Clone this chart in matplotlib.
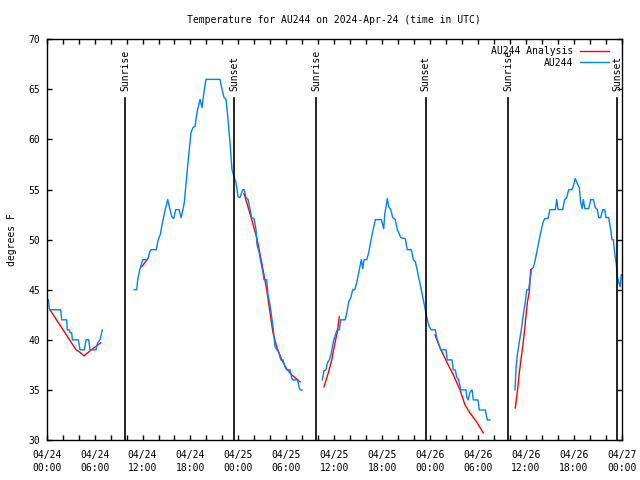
import numpy as np
import matplotlib
matplotlib.use('Agg')
import matplotlib.pyplot as plt
from matplotlib.ticker import MultipleLocator

# Timp in ore de la 04/24 00:00 UTC, temperatura in grade F
# AU244 (observatii), pe segmente
obs1_h = [0.20, 0.36, 1.75, 1.88, 2.50, 2.58, 2.83, 2.92, 3.13, 3.21, 3.96, 4.17,
          4.71, 4.92, 5.26, 5.42, 6.17, 6.36, 6.67, 6.96]
obs1_t = [44, 43, 43, 42, 42, 41, 41, 40.7, 40.7, 40, 40, 39,
          39, 40, 40, 39, 39, 39.7, 40, 41]

obs2_h = [10.97, 11.27, 11.39, 11.65, 11.90, 12.02, 12.56, 12.72, 12.90, 13.06, 13.72,
          13.90, 14.06, 14.22, 14.40, 14.65, 14.90, 15.15, 15.35, 15.65, 15.90, 16.15,
          16.57, 16.82, 16.98, 17.23, 17.69, 18.07, 18.32, 18.57, 18.82, 19.20, 19.45,
          19.70, 19.95, 21.70, 21.95, 22.20, 22.45, 22.70, 22.95, 23.20, 23.45, 23.70,
          23.95, 24.20, 24.54, 24.71, 24.96, 25.21, 25.67, 25.96, 26.21, 26.33, 26.58,
          26.83, 27.08, 27.21, 27.55, 27.71, 27.96, 28.17, 28.34, 28.59, 28.84, 29.09,
          29.30, 29.59, 29.84, 30.05, 30.47, 30.68, 30.80, 31.43, 31.59, 31.72, 31.97]
obs2_t = [45, 45, 46, 47, 47.7, 48, 48, 48.2, 48.8, 49, 49,
          49.8, 50.2, 50.5, 51.3, 52.3, 53.2, 54, 53.3, 52.3, 52.1, 53,
          53, 52.2, 52.7, 53.7, 57.7, 60.7, 61.2, 61.3, 62.7, 64, 63.2,
          64.8, 66, 66, 65, 64.2, 64, 62, 59.7, 57, 56.3, 55.7,
          54.3, 54.2, 55, 55, 54.2, 54, 52.2, 52.1, 51, 49.5, 48.8,
          47.7, 46.7, 46, 46, 44.5, 43.5, 42.3, 41.3, 39.3, 39, 38.7,
          38, 38, 37.3, 37, 37, 36.2, 36, 36, 35.3, 35, 35]

obs3_h = [34.51, 34.72, 34.97, 35.14, 35.39, 35.64, 35.89, 36.14, 36.39, 36.64, 36.81,
          37.39, 37.57, 37.82, 38.07, 38.32, 38.57, 38.82, 39.07, 39.23, 39.39, 39.57,
          39.73, 40.07, 40.32, 40.57, 40.82, 41.15, 41.90, 42.07, 42.20, 42.32, 42.49,
          42.65, 42.83, 43.08, 43.33, 43.65, 43.90, 44.08, 44.33, 44.90, 45.15, 45.66,
          45.91, 46.16, 46.33, 46.58, 46.83, 47.08, 47.33, 47.49, 47.66, 47.91, 48.16,
          48.66, 48.84, 49.34, 50.00, 50.16, 50.75, 50.91, 51.16, 51.34, 51.59, 51.84,
          52.50, 52.59, 52.76, 53.01, 53.26, 53.42, 54.01, 54.17, 54.92, 55.17, 55.51]
obs3_t = [36, 36.9, 37, 37.7, 38, 38.7, 39.8, 40.5, 41, 41, 42,
          42, 42.7, 43.8, 44.2, 45, 45, 45.7, 46.7, 47.3, 48, 47.1,
          48, 48, 48.7, 49.8, 50.8, 52, 52, 51.5, 51.1, 52.5, 53.3,
          54.1, 53.3, 53, 52.2, 52, 51, 50.7, 50.2, 50.1, 49, 49,
          48, 47.8, 47.2, 46.2, 45.3, 44.3, 43.3, 42.7, 42, 41.3, 41,
          41, 40.2, 39, 39, 38, 38, 37, 37, 36.3, 36, 35,
          35, 34.3, 34, 34.8, 35, 34, 34, 33, 33, 32, 32]

obs4_h = [58.64, 58.77, 58.93, 59.18, 59.43, 59.68, 59.93, 60.11, 60.36, 60.43, 60.61,
          60.73, 60.93, 61.18, 61.43, 61.68, 61.93, 62.18, 62.36, 62.77, 63.02, 63.69,
          63.86, 64.03, 64.61, 64.86, 65.11, 65.37, 65.78, 66.03, 66.19, 66.44, 66.69,
          66.87, 67.04, 67.20, 67.38, 67.87, 68.12, 68.45, 68.70, 68.95, 69.12, 69.37,
          69.62, 69.87, 70.04, 70.37, 70.62, 70.79, 70.95, 71.13, 71.30, 71.46, 71.64,
          71.81, 71.95]
obs4_t = [35, 37.2, 38.5, 39.8, 41, 42.5, 43.8, 45, 45, 45.5, 46.5,
          47.1, 47.2, 48, 49, 50, 51, 51.8, 52.1, 52.1, 53, 53,
          54, 53, 53, 54, 54.2, 55, 55, 55.6, 56.1, 55.6, 55.2,
          53.7, 53.1, 54, 53.1, 53.1, 54, 54, 53.2, 53, 52.2, 52.2,
          53, 53, 52.2, 52.2, 51, 50, 50, 48.6, 47.7, 46.3, 45.7,
          45.3, 46.5]

# AU244 Analysis
an1_h = [0.41, 3.67, 4.08, 4.67, 5.42, 6.76]
an1_t = [43, 39, 38.8, 38.4, 38.9, 39.7]
an2_h = [11.90, 12.65]
an2_t = [47.3, 48.1]
an3_h = [24.71, 25.67, 26.30, 26.92, 27.55, 27.96, 28.34, 28.80, 29.43, 30.05, 30.68, 31.72]
an3_t = [54.6, 52, 50.2, 47.7, 45, 42.7, 40.7, 39.3, 38, 37.1, 36.5, 35.8]
an4_h = [34.72, 35.26, 35.69, 36.10, 36.39, 36.64]
an4_t = [35.3, 36.7, 38, 39.7, 40.8, 42.3]
an5_h = [48.62, 49.25, 50.09, 50.92, 51.75, 52.38, 53.00, 53.84, 54.67]
an5_t = [40.5, 39.2, 37.8, 36.5, 35, 33.5, 32.7, 31.8, 30.7]
an6_h = [58.68, 58.93, 59.18, 59.43, 59.68, 59.93, 60.18, 60.43, 60.61]
an6_t = [33.2, 34.8, 36.7, 38.3, 39.8, 41.7, 43.7, 44.8, 47]

sun_h = [9.84, 23.49, 33.72, 47.46, 57.80, 71.42]
sun_lbl = ['Sunrise', 'Sunset', 'Sunrise', 'Sunset', 'Sunrise', 'Sunset']

tick_h = [0, 6, 12, 18, 24, 30, 36, 42, 48, 54, 60, 66, 72]
tick_lbl = ['04/24\n00:00', '04/24\n06:00', '04/24\n12:00', '04/24\n18:00',
            '04/25\n00:00', '04/25\n06:00', '04/25\n12:00', '04/25\n18:00',
            '04/26\n00:00', '04/26\n06:00', '04/26\n12:00', '04/26\n18:00',
            '04/27\n00:00']


def join(segs):
    xs, ys = [], []
    for h, t in segs:
        xs += list(h) + [np.nan]
        ys += list(t) + [np.nan]
    return xs, ys


plt.rcParams['font.family'] = 'DejaVu Sans Mono'
plt.rcParams['font.size'] = 7

fig = plt.figure(figsize=(6.4, 4.8), dpi=100)
ax = fig.add_axes([0.073, 0.0833, 0.8984, 0.8348])

ax_h, ax_t = join([(an1_h, an1_t), (an2_h, an2_t), (an3_h, an3_t),
                   (an4_h, an4_t), (an5_h, an5_t), (an6_h, an6_t)])
ob_h, ob_t = join([(obs1_h, obs1_t), (obs2_h, obs2_t), (obs3_h, obs3_t), (obs4_h, obs4_t)])

ax.plot(ax_h, ax_t, color='#ff0000', lw=1.0, label='AU244 Analysis')
ax.plot(ob_h, ob_t, color='#0080ff', lw=1.0, label='AU244')

# Rasarit / apus
for h, lbl in zip(sun_h, sun_lbl):
    ax.axvline(h, ymin=0, ymax=0.8525, color='black', lw=1.2)
    ax.text(h, 0.87, lbl, rotation=90, ha='center', va='bottom',
            transform=ax.get_xaxis_transform())

ax.set_xlim(0, 72)
ax.set_ylim(30, 70)
ax.set_xticks(tick_h)
ax.set_xticklabels(tick_lbl, linespacing=1.4)
ax.xaxis.set_minor_locator(MultipleLocator(2))
ax.yaxis.set_major_locator(MultipleLocator(5))
ax.tick_params(which='both', direction='in', top=True, right=True, length=3.5, width=1)
ax.tick_params(axis='x', pad=7)
ax.tick_params(axis='y', pad=5)
for s in ax.spines.values():
    s.set_linewidth(1)

ax.set_ylabel('degrees F', labelpad=8)
ax.set_title('Temperature for AU244 on 2024-Apr-24 (time in UTC)', fontsize=7, pad=12)

ax.legend(loc='upper right', bbox_to_anchor=(0.9896, 1.0), frameon=False,
          markerfirst=False, handlelength=3, handletextpad=0.7,
          labelspacing=0.15, borderaxespad=0.3, fontsize=7)

fig.savefig('out.png', dpi=100)
